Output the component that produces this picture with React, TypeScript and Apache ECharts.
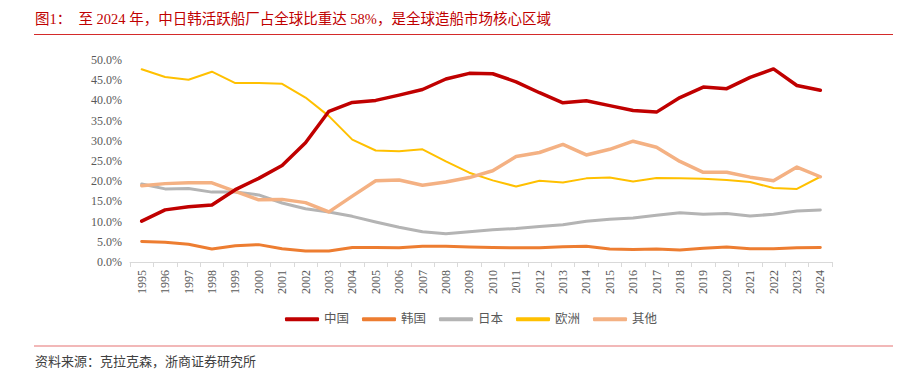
import React, { useEffect, useRef } from "react";
import * as echarts from "echarts";

const years = [
  "1995", "1996", "1997", "1998", "1999", "2000", "2001", "2002", "2003", "2004",
  "2005", "2006", "2007", "2008", "2009", "2010", "2011", "2012", "2013", "2014",
  "2015", "2016", "2017", "2018", "2019", "2020", "2021", "2022", "2023", "2024",
];

const china = [10.1, 12.9, 13.7, 14.1, 17.9, 20.7, 23.9, 29.5, 37.3, 39.5, 40.0, 41.3, 42.7, 45.3, 46.7, 46.6, 44.6, 41.9, 39.4, 39.9, 38.7, 37.5, 37.1, 40.7, 43.3, 42.9, 45.7, 47.8, 43.7, 42.5];
const korea = [5.1, 4.9, 4.4, 3.2, 4.0, 4.3, 3.3, 2.7, 2.7, 3.6, 3.6, 3.5, 3.9, 3.9, 3.7, 3.6, 3.5, 3.5, 3.8, 3.9, 3.2, 3.1, 3.2, 3.0, 3.4, 3.7, 3.3, 3.3, 3.5, 3.6];
const japan = [19.3, 18.1, 18.2, 17.3, 17.3, 16.6, 14.6, 13.2, 12.4, 11.3, 9.9, 8.6, 7.5, 7.0, 7.5, 8.0, 8.3, 8.8, 9.2, 10.1, 10.6, 10.9, 11.6, 12.2, 11.8, 12.0, 11.4, 11.8, 12.6, 12.9];
const europe = [47.7, 45.8, 45.1, 47.1, 44.3, 44.3, 44.1, 40.7, 36.1, 30.3, 27.6, 27.4, 27.9, 24.9, 22.1, 20.2, 18.7, 20.1, 19.7, 20.7, 20.9, 19.9, 20.8, 20.7, 20.6, 20.3, 19.8, 18.3, 18.1, 21.1];
const others = [18.9, 19.4, 19.6, 19.6, 17.5, 15.4, 15.5, 14.7, 12.4, 16.3, 20.1, 20.3, 19.0, 19.8, 20.9, 22.6, 26.1, 27.1, 29.1, 26.5, 27.9, 29.9, 28.4, 24.9, 22.2, 22.2, 21.0, 20.1, 23.5, 21.1];

const seriesNames = ["中国", "韩国", "日本", "欧洲", "其他"];
const seriesData = [china, korea, japan, europe, others];
const seriesColors = ["#C00000", "#ED7D31", "#B4B4B4", "#FFC000", "#F4B183"];
const seriesWidths = [3.5, 3, 3, 2, 3.5];

const titleText = "图1：  至 2024 年，中日韩活跃船厂占全球比重达 58%，是全球造船市场核心区域";
const sourceText = "资料来源：克拉克森，浙商证券研究所";

const FONT = "'Times New Roman', 'Liberation Serif', 'Noto Sans CJK SC', serif";

export default function App() {
  const ref = useRef<HTMLDivElement>(null);

  useEffect(() => {
    if (!ref.current) return;
    const chart = echarts.init(ref.current, undefined, { renderer: "svg" });
    chart.setOption({
      animation: false,
      backgroundColor: "#ffffff",
      textStyle: { fontFamily: FONT },
      grid: { left: 130, right: 75, top: 60, bottom: 115, containLabel: false },
      legend: {
        data: seriesNames,
        left: 280,
        top: 308,
        icon: "roundRect",
        itemWidth: 34,
        itemHeight: 4,
        itemGap: 13,
        textStyle: { fontFamily: FONT, fontSize: 12.5, color: "#595959" },
      },
      xAxis: {
        type: "category",
        data: years,
        boundaryGap: true,
        axisLine: { show: true, lineStyle: { color: "#D9D9D9", width: 1 } },
        axisTick: { show: true, length: 5, lineStyle: { color: "#D9D9D9" } },
        axisLabel: {
          rotate: 90,
          interval: 0,
          margin: 8,
          fontSize: 12,
          color: "#595959",
          fontFamily: FONT,
        },
      },
      yAxis: {
        type: "value",
        min: 0,
        max: 50,
        interval: 5,
        axisLine: { show: false },
        axisTick: { show: false },
        splitLine: { show: false },
        axisLabel: {
          formatter: (v: number) => v.toFixed(1) + "%",
          fontSize: 12,
          color: "#595959",
          margin: 8,
          fontFamily: FONT,
        },
      },
      series: seriesNames.map((name, i) => ({
        name,
        type: "line",
        data: seriesData[i],
        showSymbol: false,
        symbol: "none",
        color: seriesColors[i],
        lineStyle: { color: seriesColors[i], width: seriesWidths[i], cap: "round", join: "round" },
        z: i === 0 ? 5 : 2,
      })),
      graphic: [
        {
          type: "text",
          left: 35,
          top: 12,
          style: {
            text: titleText,
            fill: "#C00000",
            font: `14.5px ${FONT}`,
          },
        },
        {
          type: "line",
          shape: { x1: 34, y1: 34.5, x2: 893, y2: 34.5 },
          style: { stroke: "#D42A2A", lineWidth: 1.2 },
        },
        {
          type: "line",
          shape: { x1: 34, y1: 346, x2: 893, y2: 346 },
          style: { stroke: "#E57373", lineWidth: 1.2 },
        },
        {
          type: "text",
          left: 35,
          top: 355,
          style: {
            text: sourceText,
            fill: "#404040",
            font: `13px ${FONT}`,
          },
        },
      ],
    });
    return () => chart.dispose();
  }, []);

  return (
    <div
      ref={ref}
      style={{ position: "fixed", left: 0, top: 0, width: 907, height: 377 }}
    />
  );
}
